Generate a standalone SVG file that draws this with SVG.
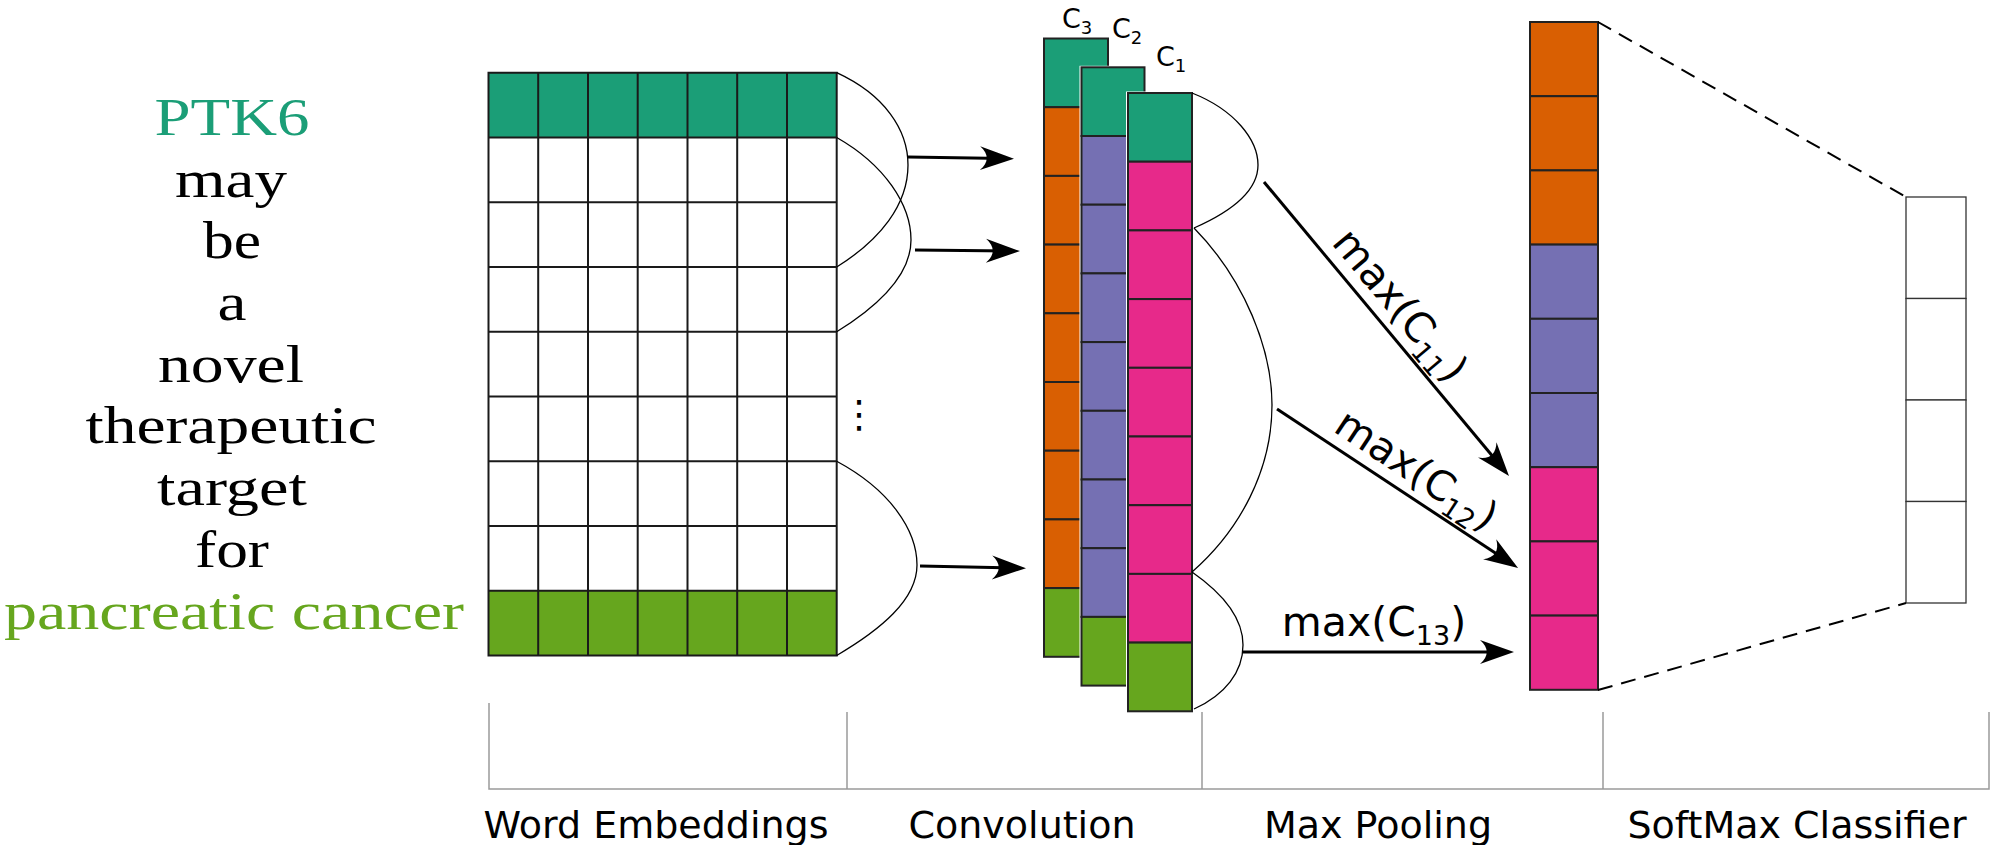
<svg xmlns="http://www.w3.org/2000/svg" width="1992" height="845" viewBox="0 0 1992 845">
<defs>
<style>
.word{font-family:"Liberation Serif","Times New Roman",serif;font-size:52px;text-anchor:middle;fill:#000}
.lbl{font-family:"DejaVu Sans",Verdana,sans-serif;font-size:38px;fill:#000}
.mx{font-family:"DejaVu Sans",Verdana,sans-serif;font-size:41px;fill:#000}
.clbl{font-family:"DejaVu Sans",Verdana,sans-serif;font-size:27px;fill:#000}
.grid{stroke:#1a1a1a;stroke-width:2;fill:none}
.cell{stroke:#222;stroke-width:2}
.arc{fill:none;stroke:#000;stroke-width:1.3}
.arr{fill:none;stroke:#000;stroke-width:3;marker-end:url(#ah)}
.brk{fill:none;stroke:#9a9a9a;stroke-width:1.5}
.tl{fill:#1b9e77}.gr{fill:#66a61e}.or{fill:#d95f02}.pu{fill:#7570b3}.pk{fill:#e7298a}
</style>
<marker id="ah" markerUnits="userSpaceOnUse" viewBox="-36 -14 40 28" refX="-10" refY="0" markerWidth="40" markerHeight="28" orient="auto" overflow="visible">
<path d="M0,0 L-34,-12 C-25,-4 -25,4 -34,12 Z" fill="#000"/>
</marker>
</defs>
<rect width="1992" height="845" fill="#fff"/>

<g id="sentence">
<text class="word" x="232" y="135" textLength="155" lengthAdjust="spacingAndGlyphs" style="fill:#1b9e77">PTK6</text>
<text class="word" x="231" y="197" textLength="112" lengthAdjust="spacingAndGlyphs">may</text>
<text class="word" x="232" y="258" textLength="58" lengthAdjust="spacingAndGlyphs">be</text>
<text class="word" x="232" y="320" textLength="29" lengthAdjust="spacingAndGlyphs">a</text>
<text class="word" x="231" y="382" textLength="146" lengthAdjust="spacingAndGlyphs">novel</text>
<text class="word" x="231" y="443" textLength="291" lengthAdjust="spacingAndGlyphs">therapeutic</text>
<text class="word" x="232" y="505" textLength="150" lengthAdjust="spacingAndGlyphs">target</text>
<text class="word" x="232" y="567" textLength="74" lengthAdjust="spacingAndGlyphs">for</text>
<text class="word" x="234" y="629" textLength="460" lengthAdjust="spacingAndGlyphs" style="fill:#66a61e">pancreatic cancer</text>
</g>

<g id="word-embeddings">
<rect class="tl" x="488.5" y="72.7" width="348.2" height="64.8"/>
<rect class="gr" x="488.5" y="590.7" width="348.2" height="64.8"/>
<path class="grid" d="M488.5,72.7 H836.7 V655.5 H488.5 Z
M538.2,72.7 V655.5 M588,72.7 V655.5 M637.7,72.7 V655.5 M687.5,72.7 V655.5 M737.2,72.7 V655.5 M787,72.7 V655.5
M488.5,137.5 H836.7 M488.5,202.2 H836.7 M488.5,267 H836.7 M488.5,331.8 H836.7 M488.5,396.5 H836.7 M488.5,461.3 H836.7 M488.5,526 H836.7 M488.5,590.7 H836.7"/>
<text class="lbl" x="859" y="427" text-anchor="middle" font-size="46">⋮</text>
</g>

<g id="conv-c3">
<rect x="1042.5" y="37" width="67" height="621.3" fill="#fff"/>
<rect class="cell tl" x="1044" y="38.5" width="64" height="68.7"/>
<rect class="cell or" x="1044" y="107.2" width="64" height="68.7"/>
<rect class="cell or" x="1044" y="175.9" width="64" height="68.7"/>
<rect class="cell or" x="1044" y="244.6" width="64" height="68.7"/>
<rect class="cell or" x="1044" y="313.3" width="64" height="68.7"/>
<rect class="cell or" x="1044" y="382" width="64" height="68.7"/>
<rect class="cell or" x="1044" y="450.7" width="64" height="68.7"/>
<rect class="cell or" x="1044" y="519.4" width="64" height="68.7"/>
<rect class="cell gr" x="1044" y="588.1" width="64" height="68.7"/>
<text class="clbl" x="1062" y="28">C<tspan font-size="18" dy="6">3</tspan></text>
</g>

<g id="conv-c2">
<rect x="1079.5" y="65.8" width="66" height="621.3" fill="#fff"/>
<rect class="cell tl" x="1081.5" y="67.3" width="63" height="68.7"/>
<rect class="cell pu" x="1081.5" y="136" width="63" height="68.7"/>
<rect class="cell pu" x="1081.5" y="204.7" width="63" height="68.7"/>
<rect class="cell pu" x="1081.5" y="273.4" width="63" height="68.7"/>
<rect class="cell pu" x="1081.5" y="342.1" width="63" height="68.7"/>
<rect class="cell pu" x="1081.5" y="410.8" width="63" height="68.7"/>
<rect class="cell pu" x="1081.5" y="479.5" width="63" height="68.7"/>
<rect class="cell pu" x="1081.5" y="548.2" width="63" height="68.7"/>
<rect class="cell gr" x="1081.5" y="616.9" width="63" height="68.7"/>
<text class="clbl" x="1112" y="38">C<tspan font-size="18" dy="6">2</tspan></text>
</g>

<g id="conv-c1">
<rect x="1126" y="91.5" width="67.5" height="621.3" fill="#fff"/>
<rect class="cell tl" x="1128" y="93" width="64" height="68.7"/>
<rect class="cell pk" x="1128" y="161.7" width="64" height="68.7"/>
<rect class="cell pk" x="1128" y="230.4" width="64" height="68.7"/>
<rect class="cell pk" x="1128" y="299.1" width="64" height="68.7"/>
<rect class="cell pk" x="1128" y="367.8" width="64" height="68.7"/>
<rect class="cell pk" x="1128" y="436.5" width="64" height="68.7"/>
<rect class="cell pk" x="1128" y="505.2" width="64" height="68.7"/>
<rect class="cell pk" x="1128" y="573.9" width="64" height="68.7"/>
<rect class="cell gr" x="1128" y="642.6" width="64" height="68.7"/>
<text class="clbl" x="1156" y="66">C<tspan font-size="18" dy="6">1</tspan></text>
</g>

<g id="max-pooling">
<rect class="cell or" x="1530" y="22" width="68" height="74.2"/>
<rect class="cell or" x="1530" y="96.2" width="68" height="74.2"/>
<rect class="cell or" x="1530" y="170.4" width="68" height="74.2"/>
<rect class="cell pu" x="1530" y="244.6" width="68" height="74.2"/>
<rect class="cell pu" x="1530" y="318.8" width="68" height="74.2"/>
<rect class="cell pu" x="1530" y="393" width="68" height="74.2"/>
<rect class="cell pk" x="1530" y="467.2" width="68" height="74.2"/>
<rect class="cell pk" x="1530" y="541.4" width="68" height="74.2"/>
<rect class="cell pk" x="1530" y="615.6" width="68" height="74.2"/>
</g>

<g id="softmax">
<rect x="1906" y="197" width="60" height="101.5" fill="#fff" stroke="#333" stroke-width="1.3"/>
<rect x="1906" y="298.5" width="60" height="101.5" fill="#fff" stroke="#333" stroke-width="1.3"/>
<rect x="1906" y="400" width="60" height="101.5" fill="#fff" stroke="#333" stroke-width="1.3"/>
<rect x="1906" y="501.5" width="60" height="101.5" fill="#fff" stroke="#333" stroke-width="1.3"/>
</g>

<g id="connectors">
<path class="arc" d="M836.7,72.7 C885,95 908,130 908,165 C908,205 880,240 836.7,267"/>
<path class="arc" d="M836.7,137.5 C885,165 911,205 911,240 C911,275 880,305 836.7,331.8"/>
<path class="arc" d="M836.7,461.3 C890,490 917,530 917,565 C917,600 880,630 836.7,655.5"/>
<path class="arr" d="M908,157 L1004,158.5"/>
<path class="arr" d="M915,250 L1010,251"/>
<path class="arr" d="M920,566 L1016,568"/>

<path class="arc" d="M1192,93 C1235,110 1258,140 1258,165 C1258,190 1235,210 1194,228"/>
<path class="arc" d="M1194,228 C1245,280 1272,350 1272,405 C1272,470 1240,530 1192,572"/>
<path class="arc" d="M1192,572 C1225,595 1243,620 1243,645 C1243,672 1225,695 1194,709"/>
<path class="arr" d="M1264,182 L1502.6,468.3"/>
<path class="arr" d="M1277,409 L1509.7,562.5"/>
<path class="arr" d="M1243,652 L1504,652"/>

<text class="mx" transform="translate(1264,182) rotate(50.2)" x="182" y="-12" text-anchor="middle">max(C<tspan font-size="27" dy="9">11</tspan><tspan dy="-9">)</tspan></text>
<text class="mx" transform="translate(1277,409) rotate(33.4)" x="150" y="-12" text-anchor="middle">max(C<tspan font-size="27" dy="9">12</tspan><tspan dy="-9">)</tspan></text>
<text class="mx" x="1374" y="636" text-anchor="middle">max(C<tspan font-size="27" dy="9">13</tspan><tspan dy="-9">)</tspan></text>

<path d="M1598,22 L1906,197 M1598,690 L1906,603" fill="none" stroke="#000" stroke-width="2" stroke-dasharray="15,9"/>
</g>

<g id="brackets">
<path class="brk" d="M489,703 V789 H847 M847,712 V789 H1202 M1202,712 V789 H1603 M1603,712 V789 H1989 V712"/>
<text class="lbl" x="656" y="838" text-anchor="middle">Word Embeddings</text>
<text class="lbl" x="1022" y="838" text-anchor="middle">Convolution</text>
<text class="lbl" x="1378" y="838" text-anchor="middle">Max Pooling</text>
<text class="lbl" x="1797" y="838" text-anchor="middle">SoftMax Classifier</text>
</g>
</svg>
